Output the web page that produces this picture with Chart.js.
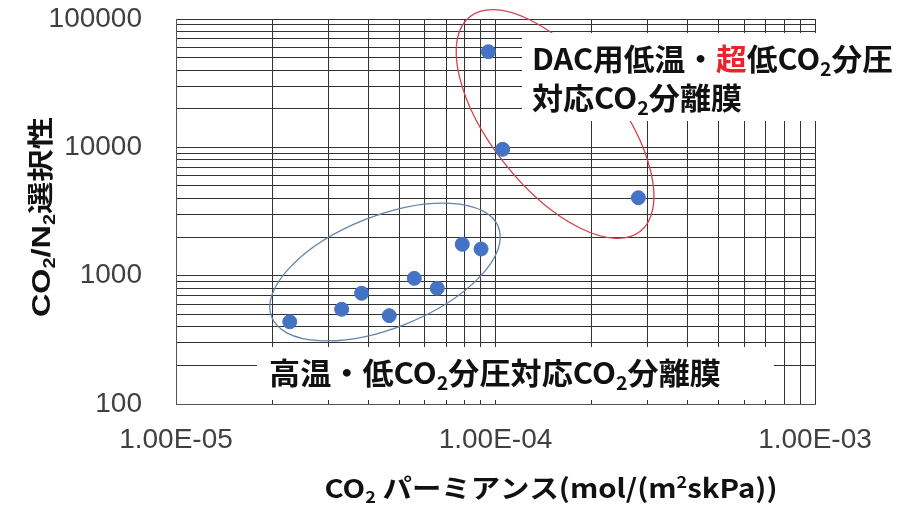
<!DOCTYPE html>
<html>
<head>
<meta charset="utf-8">
<script src="https://cdn.jsdelivr.net/npm/chart.js@4/dist/chart.umd.min.js"></script>
<style>
html, body { margin: 0; padding: 0; background: #ffffff; }
canvas { display: block; }
</style>
</head>
<body>
<canvas id="chart" width="917" height="508"></canvas>
<script>
// ---- Data ----
const permeance   = [2.27e-5, 3.30e-5, 3.81e-5, 4.65e-5, 5.57e-5, 6.57e-5, 7.87e-5, 9.01e-5, 9.50e-5, 1.053e-4, 2.80e-4];
const selectivity = [437, 547, 729, 488, 953, 797, 1755, 1614, 55600, 9650, 4050];

// ---- Axis ticks ----
const xDecades = [1e-5, 1e-4, 1e-3];
const xTickLabels = ['1.00E-05', '1.00E-04', '1.00E-03'];
const yDecades = [100, 1000, 10000, 100000];
const yTickLabels = ['100', '1000', '10000', '100000'];
const minorSteps = [1, 2, 3, 4, 5, 6, 7, 8, 9];

// ---- Text ----
const xTitleRuns = [{t: 'CO'}, {t: '2', sub: true}, {t: ' パーミアンス(mol/(m'}, {t: '2', sup: true}, {t: 'skPa))'}];
const yTitleRuns = [{t: 'CO', latin: true}, {t: '2', sub: true, latin: true}, {t: '/N', latin: true}, {t: '2', sub: true, latin: true}, {t: '選択性'}];
const dacLine1 = [{t: 'DAC用低温・'}, {t: '超', color: '#e8262a'}, {t: '低CO'}, {t: '2', sub: true}, {t: '分圧'}];
const dacLine2 = [{t: '対応CO'}, {t: '2', sub: true}, {t: '分離膜'}];
const highTempLine = [{t: '高温・低CO'}, {t: '2', sub: true}, {t: '分圧対応CO'}, {t: '2', sub: true}, {t: '分離膜'}];

// ---- Annotation geometry (ellipse centres in data units) ----
const ellipses = [
  {cx: 4.51e-5, cy: 1068, rx: 122, ry: 56, rot: -21.7, color: '#6384ab'},
  {cx: 1.536e-4, cy: 15200, rx: 137, ry: 64, rot: 51.5, color: '#d2424c'}
];

const CJK = "'Noto Sans CJK JP', 'Noto Sans', sans-serif";
const LATIN = "'Liberation Sans', Arial, sans-serif";

function gridValues(decades) {
  const out = [];
  for (let i = 0; i < decades.length - 1; i++) {
    for (const m of minorSteps) out.push(decades[i] * m);
  }
  out.push(decades[decades.length - 1]);
  return out;
}
function decadeLabel(decades, labels, value) {
  const i = decades.findIndex(d => Math.abs(d - value) / d < 1e-9);
  return i >= 0 ? labels[i] : '';
}

function drawRuns(ctx, runs, o) {
  const size = o.size;
  const fontFor = r => {
    const s = (r.sub || r.sup) ? Math.round(size * 0.62) : size;
    return `bold ${s}px ${r.latin ? LATIN : CJK}`;
  };
  let w = 0;
  for (const r of runs) { ctx.font = fontFor(r); w += ctx.measureText(r.t).width; }
  const sx = o.width ? o.width / w : 1;
  ctx.save();
  ctx.translate(o.x, o.y);
  if (o.rotate) ctx.rotate(o.rotate);
  const start = o.align === 'center' ? -(w * sx) / 2 : 0;
  ctx.translate(start, 0);
  ctx.scale(sx, 1);
  ctx.textBaseline = 'alphabetic';
  ctx.textAlign = 'left';
  let cx = 0;
  const base = size * 0.37;
  for (const r of runs) {
    ctx.font = fontFor(r);
    ctx.fillStyle = r.color || '#111111';
    let dy = base;
    if (r.sub) dy += size * 0.2;
    if (r.sup) dy -= size * 0.38;
    ctx.fillText(r.t, cx, dy);
    cx += ctx.measureText(r.t).width;
  }
  ctx.restore();
}

const annotationPlugin = {
  id: 'annotations',
  beforeDatasetsDraw(chart) {
    const {ctx, scales: {x, y}} = chart;
    ctx.save();
    for (const e of ellipses) {
      ctx.beginPath();
      ctx.ellipse(x.getPixelForValue(e.cx), y.getPixelForValue(e.cy), e.rx, e.ry, e.rot * Math.PI / 180, 0, Math.PI * 2);
      ctx.strokeStyle = e.color;
      ctx.lineWidth = 1.3;
      ctx.stroke();
    }
    ctx.restore();
  },
  afterDatasetsDraw(chart) {
    const {ctx} = chart;
    ctx.save();
    ctx.fillStyle = '#ffffff';
    ctx.fillRect(522, 33, 383, 88);
    ctx.fillRect(257, 347, 517, 53);
    ctx.restore();
    drawRuns(ctx, dacLine1, {x: 532, y: 59, size: 30, width: 361});
    drawRuns(ctx, dacLine2, {x: 532, y: 98, size: 30, width: 210});
    drawRuns(ctx, highTempLine, {x: 269, y: 373, size: 30, width: 452});
  },
  afterDraw(chart) {
    const {ctx} = chart;
    drawRuns(ctx, xTitleRuns, {x: 551, y: 488, size: 26, width: 453, align: 'center'});
    drawRuns(ctx, yTitleRuns, {x: 40, y: 217, size: 26, width: 200, align: 'center', rotate: -Math.PI / 2});
  }
};

Chart.defaults.font.family = LATIN;

new Chart(document.getElementById('chart'), {
  type: 'scatter',
  data: {
    datasets: [{
      data: permeance.map((v, i) => ({x: v, y: selectivity[i]})),
      backgroundColor: '#4472C4',
      borderColor: '#4472C4',
      borderWidth: 1,
      pointRadius: 7,
      pointHoverRadius: 7
    }]
  },
  options: {
    responsive: false,
    animation: false,
    devicePixelRatio: 1,
    layout: {padding: {left: 0, right: 102, top: 19, bottom: 0}},
    plugins: {legend: {display: false}, tooltip: {enabled: false}},
    scales: {
      x: {
        type: 'logarithmic',
        min: xDecades[0],
        max: xDecades[xDecades.length - 1],
        afterBuildTicks: s => { s.ticks = gridValues(xDecades).map(v => ({value: v})); },
        afterFit: s => { s.height = 104; s.paddingLeft = 0; s.paddingRight = 0; },
        grid: {color: '#333333', lineWidth: 1, drawTicks: false},
        border: {color: '#555555', width: 1},
        ticks: {
          autoSkip: false, maxRotation: 0, padding: 19,
          color: '#404040', font: {size: 28, family: LATIN},
          callback: v => decadeLabel(xDecades, xTickLabels, v)
        },
        title: {display: false}
      },
      y: {
        type: 'logarithmic',
        min: yDecades[0],
        max: yDecades[yDecades.length - 1],
        afterBuildTicks: s => { s.ticks = gridValues(yDecades).map(v => ({value: v})); },
        afterFit: s => { s.width = 176; s.paddingTop = 0; s.paddingBottom = 0; },
        grid: {color: '#333333', lineWidth: 1, drawTicks: false},
        border: {color: '#555555', width: 1},
        ticks: {
          autoSkip: false, padding: 34,
          color: '#404040', font: {size: 28, family: LATIN},
          callback: v => decadeLabel(yDecades, yTickLabels, v)
        },
        title: {display: false}
      }
    }
  },
  plugins: [annotationPlugin]
});
</script>
</body>
</html>
